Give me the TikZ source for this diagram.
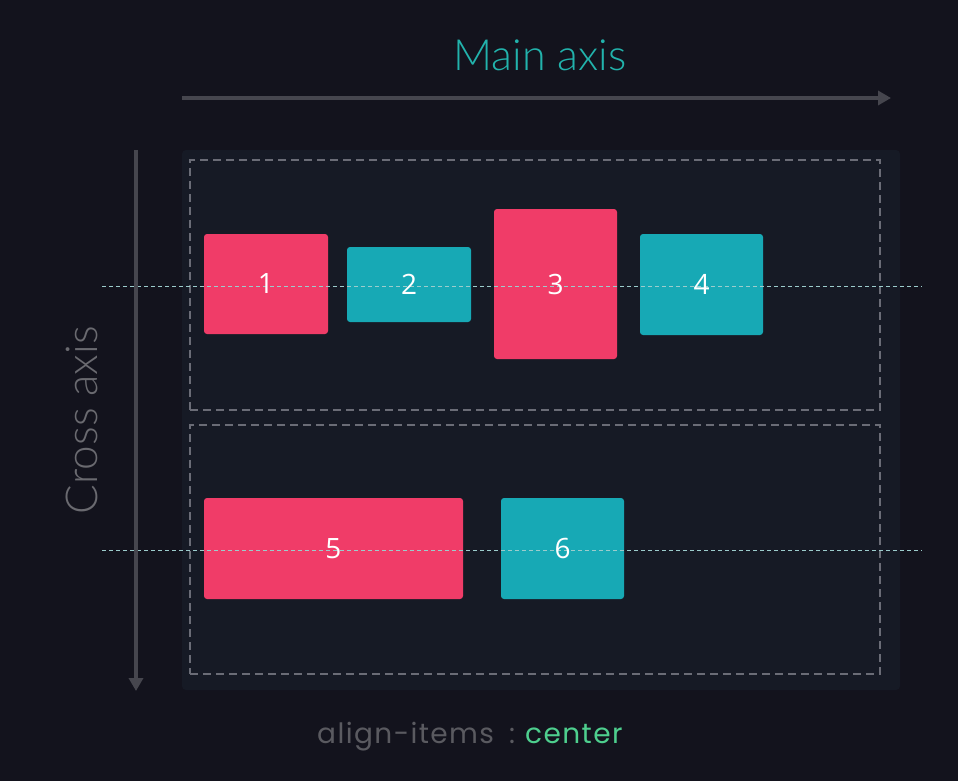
\documentclass[tikz,border=0pt]{standalone}
\usepackage{fontspec}
\setmainfont{Lato}
\newfontfamily\axisfont{Lato Light}
\newfontfamily\numfont{Open Sans}
\newfontfamily\propfont[LetterSpace=5]{Poppins}
\usetikzlibrary{arrows.meta}
\definecolor{bgc}{HTML}{13131D}
\definecolor{contc}{HTML}{161A25}
\definecolor{rowc}{HTML}{6A6C76}
\definecolor{midc}{HTML}{9CCCCC}
\definecolor{pinkc}{HTML}{F03C68}
\definecolor{tealc}{HTML}{17A9B5}
\definecolor{axisc}{HTML}{46464E}
\definecolor{mainc}{HTML}{22B3AC}
\definecolor{crossc}{HTML}{6A6A70}
\definecolor{propc}{HTML}{5A5A60}
\definecolor{greenc}{HTML}{4ECF8E}
\tikzset{
  itembox/.style={rounded corners=3pt, inner sep=0pt},
  pinkbox/.style={itembox, fill=pinkc},
  tealbox/.style={itembox, fill=tealc},
  rowbox/.style={draw=rowc, line width=1.3pt, dash pattern=on 8pt off 5pt, inner sep=0pt, minimum width=690pt},
  midline/.style={draw=midc, line width=0.8pt, dash pattern=on 4pt off 3pt},
  axisarrow/.style={draw=axisc, line width=4pt, -{Triangle[length=13pt,width=14pt]}},
  numlabel/.style={text=white, font=\numfont\fontsize{28}{30}\selectfont, inner sep=0pt},
  proptext/.style={inner sep=0pt, font=\propfont\fontsize{28}{32}\selectfont},
}
\begin{document}
\begin{tikzpicture}[x=1pt,y=-1pt]
\useasboundingbox (0,0) rectangle (958,781);
\fill[bgc] (0,0) rectangle (958,781);
% container
\node[fill=contc, rounded corners=4pt, inner sep=0pt, minimum width=718pt, minimum height=540pt] (cont) at (541,420) {};
\node[rowbox, minimum height=250pt] (row1) at (535,285) {};
\node[rowbox, minimum height=249pt] (row2) at (535,549.5) {};
% items
\node[pinkbox, minimum width=124pt, minimum height=100pt] (b1) at (266,284) {};
\node[tealbox, minimum width=124pt, minimum height=75pt] (b2) at (409,284.5) {};
\node[pinkbox, minimum width=123pt, minimum height=150pt] (b3) at (555.5,284) {};
\node[tealbox, minimum width=123pt, minimum height=101pt] (b4) at (701.5,284.5) {};
\node[pinkbox, minimum width=259pt, minimum height=101pt] (b5) at (333.5,548.5) {};
\node[tealbox, minimum width=123pt, minimum height=101pt] (b6) at (562.5,548.5) {};
% center lines
\coordinate (m1a) at (102,286);
\coordinate (m1b) at (922,286);
\coordinate (m2a) at (102,550);
\coordinate (m2b) at (922,550);
\draw[midline] (m1a) -- (m1b);
\draw[midline] (m2a) -- (m2b);
% labels
\node[numlabel] (l1) at (b1.center) {1};
\node[numlabel] (l2) at (b2.center) {2};
\node[numlabel] (l3) at (b3.center) {3};
\node[numlabel] (l4) at (b4.center) {4};
\node[numlabel] (l5) at (b5.center) {5};
\node[numlabel] (l6) at (b6.center) {6};
% axes
\coordinate (ma) at (182,98);
\coordinate (mb) at (891,98);
\draw[axisarrow] (ma) -- (mb);
\coordinate (ca) at (136,150);
\coordinate (cb) at (136,691);
\draw[axisarrow] (ca) -- (cb);
\node[anchor=base, text=mainc, font=\axisfont\fontsize{43}{47}\selectfont, inner sep=0pt] (mainlbl) at (540,71) {Main axis};
\node[anchor=base, rotate=90, text=crossc, font=\axisfont\fontsize{44}{48}\selectfont, inner sep=0pt] (crosslbl) at (97,420) {Cross axis};
% property
\node[proptext, anchor=base west, text=propc] (prop) at (317,743) {align-items};
\node[proptext, anchor=base, text=propc] (colon) at (512,743) {:};
\node[proptext, anchor=base west, text=greenc] (val) at (525,743) {center};
\end{tikzpicture}
\end{document}
